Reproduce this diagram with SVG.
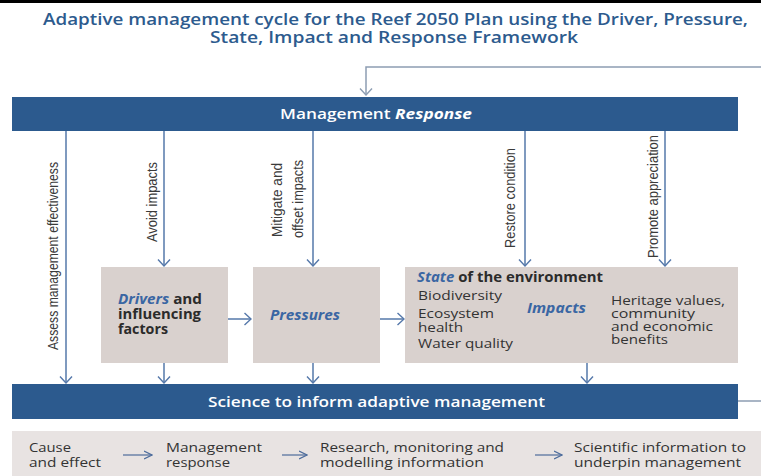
<svg xmlns="http://www.w3.org/2000/svg" width="761" height="476" viewBox="0 0 761 476">
  <style>
    .title { font-family: "Open Sans", "Noto Sans", sans-serif; font-weight: 600; font-size: 16px; fill: #2d5b8e; }
    .bar { fill: #2c5a8e; }
    .barText { font-family: "Open Sans", "Noto Sans", sans-serif; font-weight: 600; font-size: 15px; fill: #ffffff; }
    .box { fill: #d9d1ce; }
    .band { fill: #e8e3e2; }
    .boxBold { font-family: "Open Sans", "Noto Sans", sans-serif; font-weight: 700; font-size: 13.5px; fill: #2b2b2b; }
    .blueItal { font-family: "Open Sans", "Noto Sans", sans-serif; font-weight: 700; font-style: italic; font-size: 13.5px; fill: #3a66a3; }
    .boxText { font-family: "Open Sans", "Noto Sans", sans-serif; font-size: 12.5px; fill: #333333; }
    .label { font-family: "Liberation Sans", Arial, sans-serif; font-size: 15px; fill: #3a3a3a; }
    .foot { font-family: "Open Sans", "Noto Sans", sans-serif; font-size: 13.5px; fill: #333333; }
    .conn { fill: none; stroke: #5578aa; stroke-width: 1.5; }
    .loop { fill: none; stroke: #8d9db2; stroke-width: 1.5; }
    .step { fill: none; stroke: #4d6c9c; stroke-width: 1.2; }
  </style>
  <defs>
    <marker id="chev" viewBox="0 0 8 14" refX="7.5" refY="7" markerWidth="8" markerHeight="14" orient="auto" markerUnits="userSpaceOnUse">
      <path d="M1,1 L7.5,7 L1,13" fill="none" stroke="#5578aa" stroke-width="1.4"/>
    </marker>
    <marker id="chevGrey" viewBox="0 0 8 14" refX="7.5" refY="7" markerWidth="8" markerHeight="14" orient="auto" markerUnits="userSpaceOnUse">
      <path d="M1,1 L7.5,7 L1,13" fill="none" stroke="#8d9db2" stroke-width="1.4"/>
    </marker>
    <marker id="thin" viewBox="0 0 9 10" refX="8.5" refY="5" markerWidth="9" markerHeight="10" orient="auto" markerUnits="userSpaceOnUse">
      <path d="M0.5,1 L8.5,5 L0.5,9" fill="none" stroke="#4d6c9c" stroke-width="1.2"/>
    </marker>
  </defs>

  <rect x="0" y="0" width="761" height="476" fill="#ffffff"/>
  <rect x="0" y="0" width="761" height="3" fill="#000000"/>

  <!-- heading -->
  <g id="title">
    <text class="title" x="43" y="25" textLength="705" lengthAdjust="spacingAndGlyphs">Adaptive management cycle for the Reef 2050 Plan using the Driver, Pressure,</text>
    <text class="title" x="210" y="43" textLength="368" lengthAdjust="spacingAndGlyphs">State, Impact and Response Framework</text>
  </g>

  <!-- connectors -->
  <g id="connectors">
    <path class="loop" d="M761,67 H366 V95" marker-end="url(#chevGrey)"/>
    <path class="loop" d="M738,401 H761"/>
    <path class="conn" d="M66,131 V383" marker-end="url(#chev)"/>
    <path class="conn" d="M164,131 V266" marker-end="url(#chev)"/>
    <path class="conn" d="M313,131 V266" marker-end="url(#chev)"/>
    <path class="conn" d="M525,131 V266" marker-end="url(#chev)"/>
    <path class="conn" d="M665,131 V266" marker-end="url(#chev)"/>
    <path class="conn" d="M164,363 V383" marker-end="url(#chev)"/>
    <path class="conn" d="M313,363 V383" marker-end="url(#chev)"/>
    <path class="conn" d="M587,363 V383" marker-end="url(#chev)"/>
    <path class="conn" d="M228,319 H251" marker-end="url(#chev)"/>
    <path class="conn" d="M380,319 H404" marker-end="url(#chev)"/>
    <path class="conn" d="M513,321 H603" marker-end="url(#chev)"/>
  </g>

  <!-- vertical action labels -->
  <g id="labels">
    <text class="label" transform="translate(58,350) rotate(-90)" textLength="188" lengthAdjust="spacingAndGlyphs">Assess management effectiveness</text>
    <text class="label" transform="translate(157,242) rotate(-90)" textLength="80" lengthAdjust="spacingAndGlyphs">Avoid impacts</text>
    <text class="label" transform="translate(282,237) rotate(-90)" textLength="74" lengthAdjust="spacingAndGlyphs">Mitigate and</text>
    <text class="label" transform="translate(303,238) rotate(-90)" textLength="78" lengthAdjust="spacingAndGlyphs">offset impacts</text>
    <text class="label" transform="translate(515,248) rotate(-90)" textLength="100" lengthAdjust="spacingAndGlyphs">Restore condition</text>
    <text class="label" transform="translate(658,258) rotate(-90)" textLength="123" lengthAdjust="spacingAndGlyphs">Promote appreciation</text>
  </g>

  <g id="response">
    <rect class="bar" x="12" y="97" width="726" height="34"/>
    <text class="barText" x="280" y="119" textLength="192" lengthAdjust="spacingAndGlyphs">Management <tspan font-style="italic" font-weight="700">Response</tspan></text>
  </g>

  <g id="drivers">
    <rect class="box" x="101" y="267" width="127" height="96"/>
    <text class="boxBold" x="118" y="304" textLength="84" lengthAdjust="spacingAndGlyphs"><tspan class="blueItal">Drivers</tspan> and</text>
    <text class="boxBold" x="118" y="319" textLength="83" lengthAdjust="spacingAndGlyphs">influencing</text>
    <text class="boxBold" x="118" y="334" textLength="50" lengthAdjust="spacingAndGlyphs">factors</text>
  </g>

  <g id="pressures">
    <rect class="box" x="253" y="267" width="127" height="96"/>
    <text class="blueItal" x="270" y="320" textLength="70" lengthAdjust="spacingAndGlyphs">Pressures</text>
  </g>

  <g id="state">
    <rect class="box" x="405" y="267" width="333" height="96"/>
    <text class="boxBold" x="417" y="282" textLength="186" lengthAdjust="spacingAndGlyphs"><tspan class="blueItal">State</tspan> of the environment</text>
    <text class="boxText" x="418" y="300" textLength="84" lengthAdjust="spacingAndGlyphs">Biodiversity</text>
    <text class="boxText" x="418" y="318" textLength="76" lengthAdjust="spacingAndGlyphs">Ecosystem</text>
    <text class="boxText" x="418" y="332" textLength="45" lengthAdjust="spacingAndGlyphs">health</text>
    <text class="boxText" x="418" y="348" textLength="95" lengthAdjust="spacingAndGlyphs">Water quality</text>
    <text class="blueItal" x="527" y="313" textLength="59" lengthAdjust="spacingAndGlyphs">Impacts</text>
    <text class="boxText" x="611" y="305" textLength="114" lengthAdjust="spacingAndGlyphs">Heritage values,</text>
    <text class="boxText" x="611" y="318" textLength="84" lengthAdjust="spacingAndGlyphs">community</text>
    <text class="boxText" x="611" y="331" textLength="102" lengthAdjust="spacingAndGlyphs">and economic</text>
    <text class="boxText" x="611" y="344" textLength="57" lengthAdjust="spacingAndGlyphs">benefits</text>
  </g>

  <g id="science">
    <rect class="bar" x="12" y="384" width="726" height="35"/>
    <text class="barText" x="208" y="407" textLength="337" lengthAdjust="spacingAndGlyphs">Science to inform adaptive management</text>
  </g>

  <!-- sequence strip along the bottom -->
  <g id="sequence">
    <rect class="band" x="12" y="431" width="749" height="45"/>
    <text class="foot" x="29" y="452" textLength="42" lengthAdjust="spacingAndGlyphs">Cause</text>
    <text class="foot" x="29" y="467" textLength="72" lengthAdjust="spacingAndGlyphs">and effect</text>
    <path class="step" d="M123,455 H152" marker-end="url(#thin)"/>
    <text class="foot" x="166" y="452" textLength="96" lengthAdjust="spacingAndGlyphs">Management</text>
    <text class="foot" x="166" y="467" textLength="64" lengthAdjust="spacingAndGlyphs">response</text>
    <path class="step" d="M282,455 H307" marker-end="url(#thin)"/>
    <text class="foot" x="320" y="452" textLength="184" lengthAdjust="spacingAndGlyphs">Research, monitoring and</text>
    <text class="foot" x="320" y="467" textLength="164" lengthAdjust="spacingAndGlyphs">modelling information</text>
    <path class="step" d="M535,455 H562" marker-end="url(#thin)"/>
    <text class="foot" x="574" y="452" textLength="172" lengthAdjust="spacingAndGlyphs">Scientific information to</text>
    <text class="foot" x="574" y="467" textLength="167" lengthAdjust="spacingAndGlyphs">underpin management</text>
  </g>
</svg>
